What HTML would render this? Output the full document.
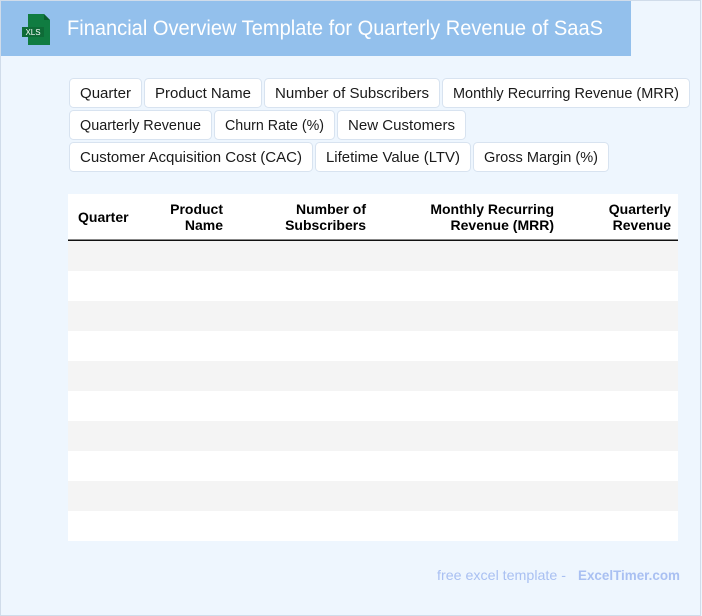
<!DOCTYPE html>
<html>
<head>
<meta charset="utf-8">
<style>
  html,body{margin:0;padding:0;background:#eef6fe;}
  svg{display:block;}
  .tag{font-family:"Liberation Sans",Arial,sans-serif;font-size:14.5px;fill:#1a1a1a;}
  .th{font-family:"Liberation Sans",Arial,sans-serif;font-size:14px;font-weight:bold;fill:#000;}
</style>
</head>
<body>
<svg width="702" height="616" viewBox="0 0 702 616" xmlns="http://www.w3.org/2000/svg">
  <!-- page -->
  <rect x="0.5" y="0.5" width="700" height="615" fill="#eef6fe" stroke="#d0dcea" stroke-width="1"/>
  <!-- header bar -->
  <rect x="1" y="1" width="630" height="55" fill="#93c0ec"/>
  <!-- xls icon -->
  <path d="M28 14 H44 L50 20 V45 H28 Z" fill="#107c41"/>
  <path d="M44 14 V20 H50 Z" fill="#0b5e30"/>
  <rect x="22" y="27" width="22" height="10" fill="#0e6b37"/>
  <text x="33" y="35" text-anchor="middle" font-family="Liberation Sans,Arial,sans-serif" font-size="8" fill="#ffffff">XLS</text>
  <!-- title -->
  <text x="67" y="35" font-family="Liberation Sans,Arial,sans-serif" font-size="21" fill="#ffffff" textLength="536" lengthAdjust="spacingAndGlyphs">Financial Overview Template for Quarterly Revenue of SaaS</text>

  <!-- tags row 1 -->
  <g>
    <rect x="69.5" y="78.5" width="72" height="29" rx="4" fill="#fff" stroke="#d8e3f0"/>
    <text class="tag" x="105.5" y="98" text-anchor="middle" textLength="51" lengthAdjust="spacingAndGlyphs">Quarter</text>
    <rect x="144.5" y="78.5" width="117" height="29" rx="4" fill="#fff" stroke="#d8e3f0"/>
    <text class="tag" x="203" y="98" text-anchor="middle" textLength="96" lengthAdjust="spacingAndGlyphs">Product Name</text>
    <rect x="264.5" y="78.5" width="175" height="29" rx="4" fill="#fff" stroke="#d8e3f0"/>
    <text class="tag" x="352" y="98" text-anchor="middle" textLength="154" lengthAdjust="spacingAndGlyphs">Number of Subscribers</text>
    <rect x="442.5" y="78.5" width="247" height="29" rx="4" fill="#fff" stroke="#d8e3f0"/>
    <text class="tag" x="566" y="98" text-anchor="middle" textLength="226" lengthAdjust="spacingAndGlyphs">Monthly Recurring Revenue (MRR)</text>
  </g>
  <!-- tags row 2 -->
  <g>
    <rect x="69.5" y="110.5" width="142" height="29" rx="4" fill="#fff" stroke="#d8e3f0"/>
    <text class="tag" x="140.5" y="130" text-anchor="middle" textLength="121" lengthAdjust="spacingAndGlyphs">Quarterly Revenue</text>
    <rect x="214.5" y="110.5" width="120" height="29" rx="4" fill="#fff" stroke="#d8e3f0"/>
    <text class="tag" x="274.5" y="130" text-anchor="middle" textLength="99" lengthAdjust="spacingAndGlyphs">Churn Rate (%)</text>
    <rect x="337.5" y="110.5" width="128" height="29" rx="4" fill="#fff" stroke="#d8e3f0"/>
    <text class="tag" x="401.5" y="130" text-anchor="middle" textLength="107" lengthAdjust="spacingAndGlyphs">New Customers</text>
  </g>
  <!-- tags row 3 -->
  <g>
    <rect x="69.5" y="142.5" width="243" height="29" rx="4" fill="#fff" stroke="#d8e3f0"/>
    <text class="tag" x="191" y="162" text-anchor="middle" textLength="222" lengthAdjust="spacingAndGlyphs">Customer Acquisition Cost (CAC)</text>
    <rect x="315.5" y="142.5" width="155" height="29" rx="4" fill="#fff" stroke="#d8e3f0"/>
    <text class="tag" x="393" y="162" text-anchor="middle" textLength="134" lengthAdjust="spacingAndGlyphs">Lifetime Value (LTV)</text>
    <rect x="473.5" y="142.5" width="135" height="29" rx="4" fill="#fff" stroke="#d8e3f0"/>
    <text class="tag" x="541" y="162" text-anchor="middle" textLength="114" lengthAdjust="spacingAndGlyphs">Gross Margin (%)</text>
  </g>

  <!-- table -->
  <rect x="68" y="194" width="610" height="347" fill="#ffffff"/>
  <rect x="68" y="241" width="610" height="30" fill="#f4f4f4"/>
  <rect x="68" y="301" width="610" height="30" fill="#f4f4f4"/>
  <rect x="68" y="361" width="610" height="30" fill="#f4f4f4"/>
  <rect x="68" y="421" width="610" height="30" fill="#f4f4f4"/>
  <rect x="68" y="481" width="610" height="30" fill="#f4f4f4"/>
  <rect x="68" y="239.5" width="610" height="1.5" fill="#111"/>

  <text class="th" x="78" y="222">Quarter</text>
  <text class="th" x="223" y="214" text-anchor="end">Product</text>
  <text class="th" x="223" y="230" text-anchor="end">Name</text>
  <text class="th" x="366" y="214" text-anchor="end">Number of</text>
  <text class="th" x="366" y="230" text-anchor="end">Subscribers</text>
  <text class="th" x="554" y="214" text-anchor="end">Monthly Recurring</text>
  <text class="th" x="554" y="230" text-anchor="end">Revenue (MRR)</text>
  <text class="th" x="671" y="214" text-anchor="end">Quarterly</text>
  <text class="th" x="671" y="230" text-anchor="end">Revenue</text>

  <!-- footer -->
  <text x="437" y="580" font-family="Liberation Sans,Arial,sans-serif" font-size="14" fill="#a9c0f2" textLength="129" lengthAdjust="spacingAndGlyphs">free excel template -</text>
  <text x="578" y="580" font-family="Liberation Sans,Arial,sans-serif" font-size="14" font-weight="bold" fill="#a9c0f2" textLength="102" lengthAdjust="spacingAndGlyphs">ExcelTimer.com</text>
</svg>
</body>
</html>
